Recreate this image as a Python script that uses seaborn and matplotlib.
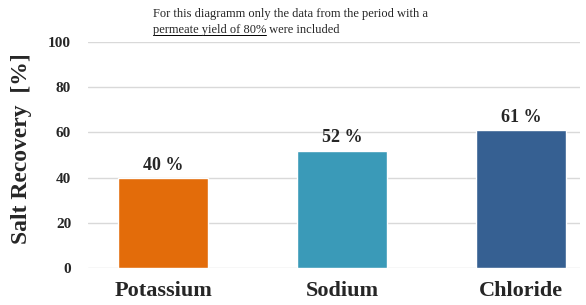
import matplotlib
matplotlib.use("Agg")
import matplotlib.pyplot as plt
import pandas as pd
import seaborn as sns
from matplotlib.lines import Line2D

categories = ["Potassium", "Sodium", "Chloride"]
recovery = [40, 52, 61]
colors = ["#E36C0A", "#3A9AB8", "#366092"]
yticks = [0, 20, 40, 60, 80, 100]

sns.set_theme(style="white")
plt.rcParams["font.family"] = ["Liberation Serif", "DejaVu Serif"]

df = pd.DataFrame({"element": categories, "recovery": recovery})

fig = plt.figure(figsize=(5.86, 3.05), dpi=100)
ax = fig.add_axes([0.150, 0.121, 0.840, 0.741])

sns.barplot(data=df, x="element", y="recovery", hue="element", palette=colors,
            width=0.5, legend=False, ax=ax, saturation=1)

ax.set_ylim(0, 100)
ax.set_xlim(-0.42, 2.33)
ax.set_yticks(yticks)
ax.yaxis.grid(True, color="#D9D9D9", linewidth=1)
ax.set_axisbelow(True)
for s in ax.spines.values():
    s.set_visible(False)
ax.tick_params(axis="both", length=0)
ax.tick_params(axis="y", pad=12, labelsize=11)
ax.tick_params(axis="x", pad=9, labelsize=16)
for lab in ax.get_xticklabels() + ax.get_yticklabels():
    lab.set_fontweight("bold")
ax.set_xlabel("")
ax.set_ylabel("Salt Recovery  [%]", fontsize=17, fontweight="bold")
ax.yaxis.set_label_coords(-0.114, 0.53)

for cont in ax.containers:
    ax.bar_label(cont, labels=[f"{v:.0f} %" for v in cont.datavalues],
                 padding=3, fontsize=13, fontweight="bold")

fig.text(153 / 586, 1 - 14 / 305, "For this diagramm only the data from the period with a",
         fontsize=9, va="center", ha="left")
t1 = fig.text(153 / 586, 1 - 30 / 305, "permeate yield of 80%", fontsize=9, va="center", ha="left")
fig.canvas.draw()
bb = t1.get_window_extent().transformed(fig.transFigure.inverted())
fig.text(bb.x1, 1 - 30 / 305, " were included", fontsize=9, va="center", ha="left")
fig.add_artist(Line2D([bb.x0, bb.x1], [bb.y0 + 0.004, bb.y0 + 0.004], color="black",
                      linewidth=0.7, transform=fig.transFigure))

fig.savefig("out.png", dpi=100)
